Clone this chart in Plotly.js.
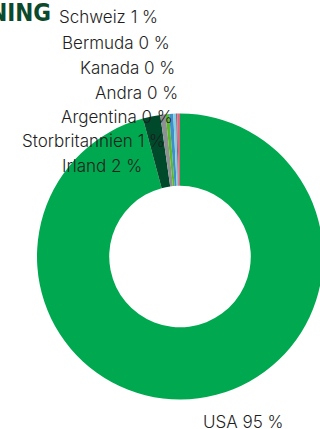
<!DOCTYPE html>
<html>
<head>
<meta charset="utf-8">
<script src="https://cdn.plot.ly/plotly-3.0.1.min.js"></script>
<style>
html,body{margin:0;padding:0;overflow:hidden;background:#fff;width:320px;height:429px;}
#chart{width:330px;height:429px;}
</style>
</head>
<body>
<div id="chart"></div>
<script>
var countries = ["USA", "Irland", "Storbritannien", "Argentina", "Andra", "Kanada", "Bermuda", "Schweiz"];
var shares = [95.3, 1.95, 0.6, 0.4, 0.45, 0.3, 0.15, 0.3];
var shareLabels = ["95 %", "2 %", "1 %", "0 %", "0 %", "0 %", "0 %", "1 %"];
var colors = ["#00a94f", "#004a2c", "#8e9194", "#5bbb26", "#3f8fc9", "#86cfe3", "#7e6d7c", "#e0657e"];

var W = 330, H = 429;
var cx = 180, cy = 256.5, R = 143;

var trace = {
  type: "pie",
  labels: countries,
  values: shares,
  sort: false,
  direction: "clockwise",
  rotation: 0,
  hole: 0.495,
  textinfo: "none",
  marker: {colors: colors, line: {width: 0}},
  domain: {x: [(cx - R) / W, (cx + R) / W], y: [(H - (cy + R)) / H, (H - (cy - R)) / H]},
  showlegend: false,
  hoverinfo: "label+percent"
};

// label anchor positions (right end x, center y) in pixels
var labelPos = [[286, 422], [144, 166], [167, 141], [175, 117], [180, 93], [177, 68], [172, 43], [160, 17]];

var annotations = countries.map(function (c, i) {
  return {
    text: c + " " + shareLabels[i],
    xref: "paper", yref: "paper",
    x: labelPos[i][0] / W, y: 1 - labelPos[i][1] / H,
    xanchor: "right", yanchor: "middle",
    showarrow: false,
    font: {family: "Inter, 'Noto Sans', sans-serif", size: 17, weight: 300, color: "#1e1e1e"}
  };
});
annotations.push({
  text: "<b>FÖRDELNING</b>",
  xref: "paper", yref: "paper",
  x: 53 / W, y: 1 - 12 / H,
  xanchor: "right", yanchor: "middle",
  showarrow: false,
  font: {family: "'DejaVu Sans Condensed', 'Liberation Sans Narrow', sans-serif", size: 24, stretch: "condensed", color: "#0b4a2c"}
});

Plotly.newPlot("chart", [trace], {
  width: W, height: H,
  margin: {l: 0, r: 0, t: 0, b: 0},
  paper_bgcolor: "#ffffff",
  annotations: annotations
}, {displayModeBar: false, staticPlot: true});
</script>
</body>
</html>
